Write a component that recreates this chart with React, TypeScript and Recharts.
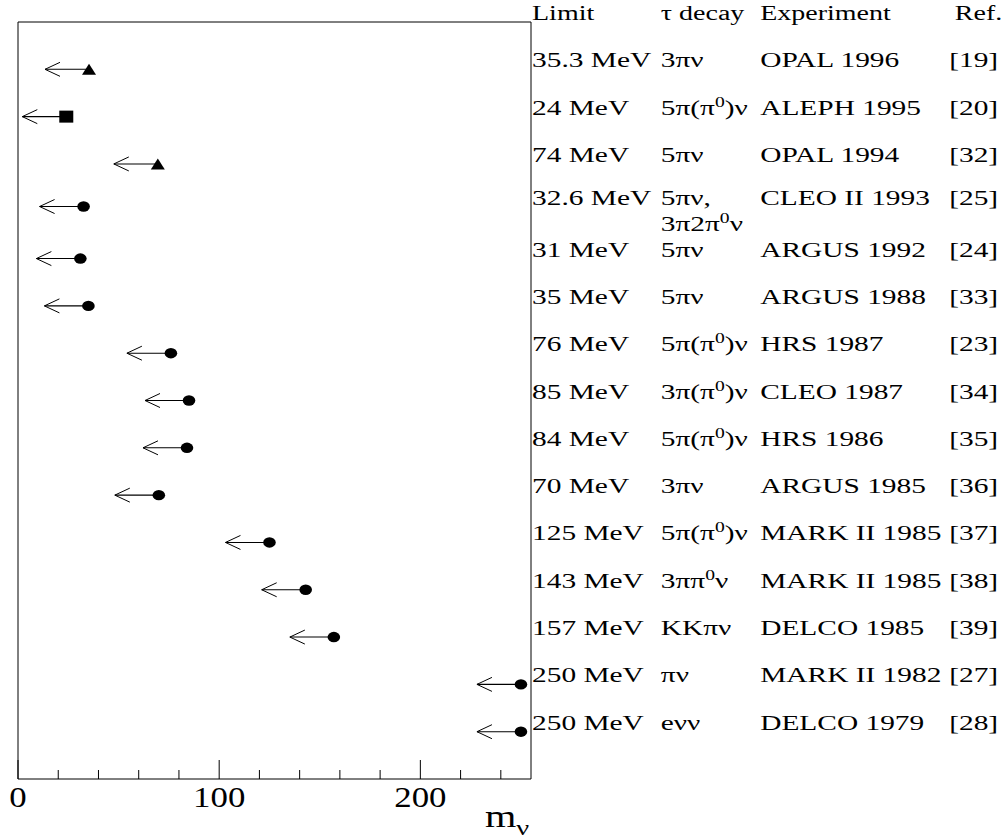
import { ScatterChart, Scatter, XAxis, YAxis, ReferenceArea } from "recharts"

// tau neutrino mass limits, one entry per row (top to bottom)
const limitLabels = ["35.3 MeV", "24 MeV", "74 MeV", "32.6 MeV", "31 MeV", "35 MeV", "76 MeV", "85 MeV",
  "84 MeV", "70 MeV", "125 MeV", "143 MeV", "157 MeV", "250 MeV", "250 MeV"]
// where the points sit on the m_nu axis (the OPAL 1994 point is drawn near 70)
const plotted = [35.3, 24, 69.5, 32.6, 31, 35, 76, 85, 84, 70, 125, 143, 157, 250, 250]
const rowPos = [1, 2, 3, 3.9, 5, 6, 7, 8, 9, 10, 11, 12, 13, 14, 15]
const markers = ["triangle", "square", "triangle", "circle", "circle", "circle", "circle", "circle",
  "circle", "circle", "circle", "circle", "circle", "circle", "circle"]
const decays = ["3πν", "5π(π^0)ν", "5πν", "5πν,\n3π2π^0ν", "5πν", "5πν", "5π(π^0)ν", "3π(π^0)ν",
  "5π(π^0)ν", "3πν", "5π(π^0)ν", "3ππ^0ν", "KKπν", "πν", "eνν"]
const experiments = ["OPAL 1996", "ALEPH 1995", "OPAL 1994", "CLEO II 1993", "ARGUS 1992", "ARGUS 1988",
  "HRS 1987", "CLEO 1987", "HRS 1986", "ARGUS 1985", "MARK II 1985", "MARK II 1985", "DELCO 1985",
  "MARK II 1982", "DELCO 1979"]
const refs = ["[19]", "[20]", "[32]", "[25]", "[24]", "[33]", "[23]", "[34]", "[35]", "[36]", "[37]",
  "[38]", "[39]", "[27]", "[28]"]
const headers = ["Limit", "τ decay", "Experiment", "Ref."]
const xTicks = [0, 20, 40, 60, 80, 100, 120, 140, 160, 180, 200, 220, 240]

const data = plotted.map((v, i) => ({ x: v, y: rowPos[i], marker: markers[i] }))

const FONT = "'Liberation Serif', 'Times New Roman', serif"
const cols = [0, 92, 163, 298]
const headerCols = [0, 92, 163, 302]

function withSup(line: string) {
  const parts = line.split("^0")
  const out: any[] = []
  parts.forEach((p, i) => {
    if (i > 0) {
      out.push(<tspan key={"s" + i} dy={-8} fontSize={14}>0</tspan>)
      out.push(<tspan key={"p" + i} dy={8}>{p}</tspan>)
    } else {
      out.push(<tspan key={"p" + i}>{p}</tspan>)
    }
  })
  return out
}

function RowTick(props: any) {
  const { x, y, payload } = props
  const v = payload.value
  if (v === 0) {
    return (
      <g transform={`translate(${x + 1},${y - 2}) scale(1.4,1)`} fontFamily={FONT} fontSize={20} fill="#000">
        {headers.map((h, i) => (
          <text key={i} x={headerCols[i]} y={0}>{h}</text>
        ))}
      </g>
    )
  }
  const i = rowPos.indexOf(v)
  if (i < 0) return null
  return (
    <g transform={`translate(${x + 1},${y - 2}) scale(1.4,1)`} fontFamily={FONT} fontSize={21} fill="#000">
      <text x={cols[0]} y={0}>{limitLabels[i]}</text>
      {decays[i].split("\n").map((line, li) => (
        <text key={li} x={cols[1]} y={li * 26}>{withSup(line)}</text>
      ))}
      <text x={cols[2]} y={0}>{experiments[i]}</text>
      <text x={cols[3]} y={0}>{refs[i]}</text>
    </g>
  )
}

function XTick(props: any) {
  const { x, y, payload } = props
  const v = payload.value
  const major = v % 100 === 0
  return (
    <g>
      <line x1={x} y1={y} x2={x} y2={y - (major ? 19 : 9)} stroke="#000" strokeWidth={1} />
      {major && (
        <g transform={`translate(${x},${y + 28}) scale(1.18,1)`}>
          <text textAnchor="middle" fontFamily={FONT} fontSize={29.5} fill="#000">{v}</text>
        </g>
      )}
    </g>
  )
}

function MassLabel(props: any) {
  const vb = props.viewBox || { x: 18, y: 779, width: 513 }
  const x = vb.x + vb.width - 46
  const y = vb.y + 48
  return (
    <g transform={`translate(${x},${y}) scale(1.3,1)`} fontFamily={FONT} fill="#000">
      <text x={0} y={0} fontSize={31}>
        m<tspan dy={8} fontSize={22}>ν</tspan>
      </text>
    </g>
  )
}

function LimitMark(props: any) {
  const { cx, cy } = props
  const marker = props.payload?.marker ?? props.marker
  const tip = cx - 44
  let mark
  if (marker === "triangle") {
    mark = <polygon points={`${cx - 7},${cy + 5.5} ${cx + 7},${cy + 5.5} ${cx},${cy - 5.5}`} fill="#000" />
  } else if (marker === "square") {
    mark = <rect x={cx - 7} y={cy - 6} width={14} height={12} fill="#000" />
  } else {
    mark = <ellipse cx={cx} cy={cy} rx={6.3} ry={5.2} fill="#000" />
  }
  return (
    <g>
      <line x1={tip} y1={cy} x2={cx} y2={cy} stroke="#000" strokeWidth={1.1} />
      <polyline points={`${tip + 15},${cy - 7} ${tip},${cy} ${tip + 15},${cy + 7}`} fill="none" stroke="#000" strokeWidth={1} />
      {mark}
    </g>
  )
}

export default function App() {
  return (
    <div style={{ position: "absolute", left: 0, top: 0, width: 1006, height: 840, background: "#fff", fontFamily: FONT }}>
      <ScatterChart width={1006} height={840} margin={{ top: 22, right: 5, bottom: 0, left: 18 }}>
        <XAxis
          type="number"
          dataKey="x"
          domain={[0, 255]}
          ticks={xTicks}
          interval={0}
          height={61}
          axisLine={false}
          tickLine={false}
          tickSize={0}
          tickMargin={0}
          tick={<XTick />}
          label={{ content: <MassLabel /> }}
        />
        <YAxis
          type="number"
          dataKey="y"
          orientation="right"
          reversed
          domain={[0, 16]}
          ticks={[0, ...rowPos]}
          interval={0}
          width={470}
          axisLine={false}
          tickLine={false}
          tickSize={0}
          tickMargin={0}
          tick={<RowTick />}
        />
        <ReferenceArea x1={0} x2={255} y1={0} y2={16} fill="none" stroke="#000" strokeWidth={1} />
        <Scatter data={data} shape={<LimitMark />} isAnimationActive={false} />
      </ScatterChart>
    </div>
  )
}
